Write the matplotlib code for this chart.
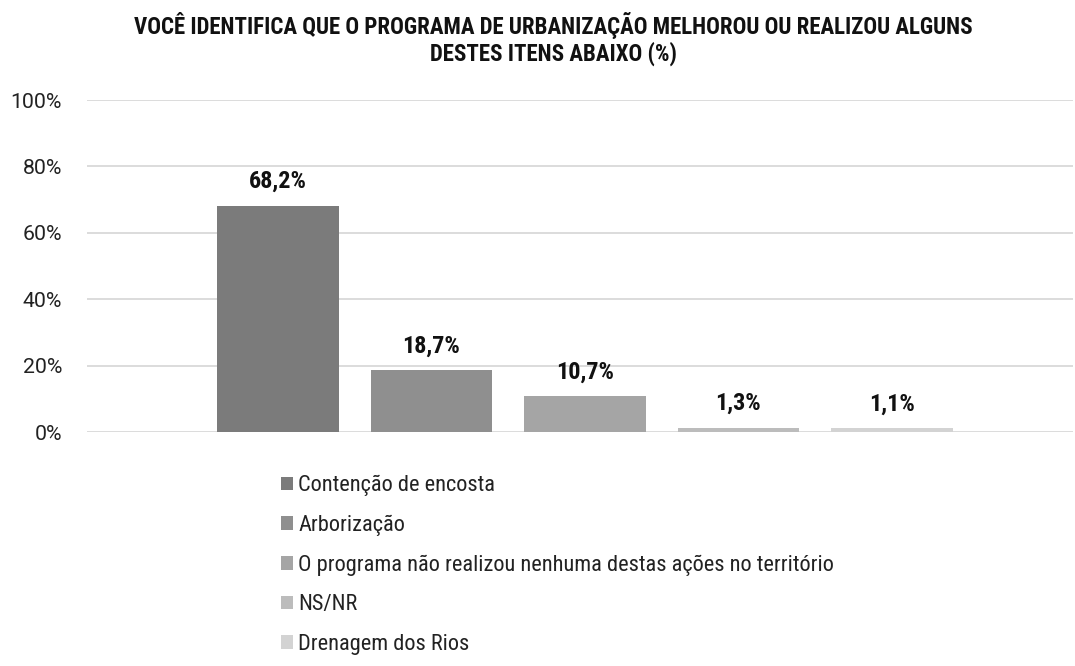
import matplotlib.pyplot as plt
from matplotlib.patches import Patch
from matplotlib.ticker import FuncFormatter

# Données du graphique
categorias = [
    "Contenção de encosta",
    "Arborização",
    "O programa não realizou nenhuma destas ações no território",
    "NS/NR",
    "Drenagem dos Rios",
]
valores = [68.2, 18.7, 10.7, 1.3, 1.1]
rotulos = ["68,2%", "18,7%", "10,7%", "1,3%", "1,1%"]
cores = ["#7b7b7b", "#8f8f8f", "#a5a5a5", "#bcbcbc", "#d3d3d3"]
yticks = [0, 20, 40, 60, 80, 100]

titulo = ("VOCÊ IDENTIFICA QUE O PROGRAMA DE URBANIZAÇÃO MELHOROU OU REALIZOU ALGUNS\n"
          "DESTES ITENS ABAIXO (%)")

plt.rcParams["font.family"] = ["Roboto Condensed", "Roboto", "DejaVu Sans"]

W, H = 1075, 666
fig = plt.figure(figsize=(W / 100, H / 100), dpi=100)
ax = fig.add_axes([87 / W, 1 - 432 / H, (1073 - 87) / W, (432 - 100) / H])

x = list(range(len(valores)))
bars = ax.bar(x, valores, width=0.79, color=cores, zorder=3)

for b, txt in zip(bars, rotulos):
    ax.annotate(txt, (b.get_x() + b.get_width() / 2, b.get_height()),
                xytext=(0, 9), textcoords="offset points",
                ha="center", va="bottom", fontsize=17.5, fontweight="bold",
                color="#111111")

ax.set_xlim(-1.245, 5.18)
ax.set_ylim(0, 100)
ax.set_yticks(yticks)
ax.yaxis.set_major_formatter(FuncFormatter(lambda v, p: f"{v:.0f}%"))
ax.tick_params(axis="y", length=0, pad=18, labelsize=15.3, labelcolor="#222222")
for lab in ax.get_yticklabels():
    lab.set_family(["Roboto", "DejaVu Sans"])
ax.set_xticks([])
ax.grid(axis="y", color="#d9d9d9", linewidth=1.3, zorder=0)
for s in ax.spines.values():
    s.set_visible(False)

fig.text(553 / W, 1 - 39 / H, titulo, ha="center", va="center", fontsize=16.5,
         fontweight="bold", linespacing=1.1, color="#111111")

handles = [Patch(facecolor=c, edgecolor="none") for c in cores]
fig.legend(handles, categorias, loc="upper left",
           bbox_to_anchor=(281 / W, 1 - 475 / H), frameon=False,
           fontsize=16.1, labelspacing=0.83, handlelength=0.55,
           handleheight=0.55, handletextpad=0.22, borderpad=0,
           borderaxespad=0, labelcolor="#222222")

fig.savefig("out.png", dpi=100)
